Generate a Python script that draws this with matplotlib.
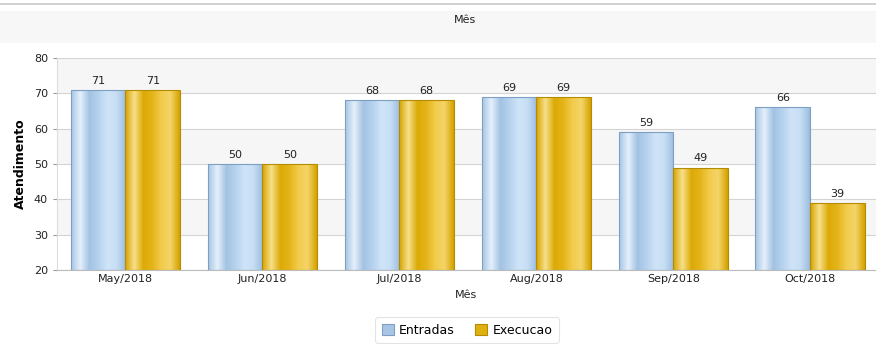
import matplotlib
matplotlib.use("Agg")
import matplotlib.pyplot as plt
from matplotlib.colors import LinearSegmentedColormap
from matplotlib.patches import Rectangle
import numpy as np

meses = ["May/2018", "Jun/2018", "Jul/2018", "Aug/2018", "Sep/2018", "Oct/2018"]
entradas = [71, 50, 68, 69, 59, 66]
execucao = [71, 50, 68, 69, 49, 39]

plt.rcParams['font.family'] = ['DejaVu Sans']

fig = plt.figure(figsize=(8.76, 3.5), dpi=100)
fig.patch.set_facecolor('white')

# faixa do titulo
fig.add_artist(Rectangle((0, 1 - 43 / 350), 1, 32 / 350, transform=fig.transFigure,
                         facecolor='#f7f7f7', edgecolor='none', zorder=0))
fig.add_artist(plt.Line2D([0, 1], [1 - 4 / 350, 1 - 4 / 350], transform=fig.transFigure,
                          color='#c8c8c8', lw=1.2))
fig.text(465 / 876, 1 - 20 / 350, "Mês", ha='center', va='center', fontsize=8, color='#222222')

ax = fig.add_axes([57 / 876, 80 / 350, 1 - 57 / 876, 212 / 350])
ax.set_facecolor('white')
ax.set_xlim(-0.5, 5.48)
ax.set_ylim(20, 80)

# faixas alternadas
for i, y0 in enumerate(range(70, 19, -10)):
    if i % 2 == 0:
        ax.axhspan(y0, y0 + 10, color='#f6f6f6', zorder=0, lw=0)
ax.set_yticks(range(20, 81, 10))
ax.yaxis.grid(True, color='#d4d4d4', lw=0.8, zorder=1)
ax.set_axisbelow(True)

x = np.arange(len(meses))
w = 0.4
b1 = ax.bar(x - w / 2, np.array(entradas) - 20, w, bottom=20, color='#b7d3ee',
            edgecolor='#7d9fc4', lw=0.8, zorder=2)
b2 = ax.bar(x + w / 2, np.array(execucao) - 20, w, bottom=20, color='#e9bd2a',
            edgecolor='#b48c00', lw=0.8, zorder=2)

azul = LinearSegmentedColormap.from_list('azul', ['#a8c6e4', '#e4f0fb', '#a3c3e3', '#b5d2ee', '#cfe4f8', '#c6def4', '#9dbde0'])
ouro = LinearSegmentedColormap.from_list('ouro', ['#d8a400', '#f7e08a', '#dcaa06', '#e4b41a', '#f2cc4c', '#f4d468', '#d5a300'])
grad = np.linspace(0, 1, 100).reshape(1, -1)
for bars, cmap in ((b1, azul), (b2, ouro)):
    for p in bars:
        x0, y0 = p.get_x(), p.get_y()
        im = ax.imshow(grad, cmap=cmap, aspect='auto', zorder=2.5,
                       extent=(x0, x0 + p.get_width(), y0, y0 + p.get_height()))
        im.set_clip_path(p)
        p.set_facecolor('none')
        p.set_zorder(3)

for bars, vals in ((b1, entradas), (b2, execucao)):
    for p, v in zip(bars, vals):
        ax.text(p.get_x() + p.get_width() / 2, v + 1.2, str(v), ha='center', va='bottom',
                fontsize=8, color='#222222')

ax.set_xticks(x)
ax.set_xticklabels(meses, fontsize=8, color='#222222')
ax.tick_params(axis='y', labelsize=8, colors='#222222', length=3, color='#999999')
ax.tick_params(axis='x', length=0, pad=3)
ax.set_xlabel("Mês", fontsize=8, color='#222222', labelpad=4)
ax.set_ylabel("Atendimento", fontsize=9, fontweight='bold', labelpad=5)
for s in ax.spines.values():
    s.set_visible(False)
ax.spines['bottom'].set_visible(True)
ax.spines['bottom'].set_color('#bbbbbb')
ax.spines['left'].set_visible(True)
ax.spines['left'].set_color('#dddddd')

leg = fig.legend([b1, b2], ["Entradas", "Execucao"], loc='center', bbox_to_anchor=(467 / 876, 1 - 330 / 350),
                 ncol=2, fontsize=9, frameon=True, handlelength=1.0, handleheight=1.0,
                 columnspacing=1.6, handletextpad=0.4, borderpad=0.5, borderaxespad=0)
leg.get_frame().set_edgecolor('#dddddd')
leg.get_frame().set_linewidth(0.8)
for h, c in zip(leg.legend_handles, ['#a8c6e4', '#e0b010']):
    h.set_facecolor(c)

fig.savefig("out.png", dpi=100)
